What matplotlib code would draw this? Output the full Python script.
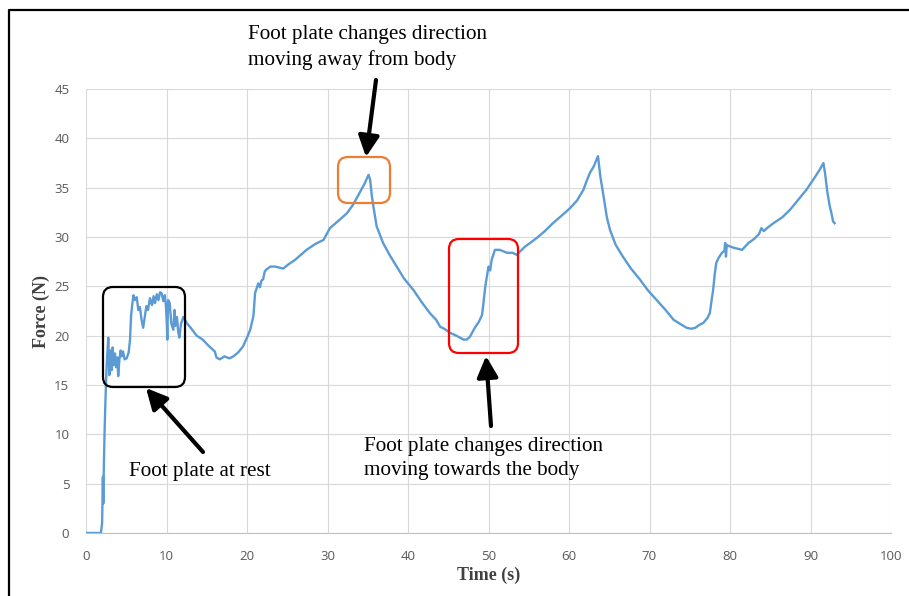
import matplotlib.pyplot as plt
from matplotlib.patches import FancyBboxPatch

# time (s) and force (N)
t = [0, 1.85, 2.0, 2.1, 2.15, 2.2, 2.3, 2.4, 2.5, 2.6, 2.77, 2.9, 3.0, 3.19, 3.3, 3.45, 3.6, 3.75,
     3.9, 4.0, 4.15, 4.3, 4.43, 4.6, 4.8, 5.05, 5.3, 5.47, 5.6, 5.75, 5.9, 6.1, 6.3, 6.5, 6.7, 6.9,
     7.1, 7.3, 7.5, 7.7, 7.95, 8.2, 8.4, 8.57, 8.8, 9.0, 9.2, 9.4, 9.6, 9.8, 9.94, 10.05, 10.1, 10.2,
     10.4, 10.6, 10.85, 11.0, 11.1, 11.3, 11.45, 11.6, 11.8, 12.1, 12.5, 13.0, 13.75, 14.5, 15.2, 16.0,
     16.2, 16.6, 17.2, 17.8, 18.3, 18.9, 19.5, 20.0, 20.4, 20.8, 21.0, 21.2, 21.4, 21.6, 21.8, 22.0,
     22.2, 22.4, 22.9, 23.5, 24.0, 24.5, 25.1, 26.0, 27.4, 28.5, 29.5, 30.3, 31.3, 32.4, 33.2, 34.0,
     34.6, 35.1, 35.3, 35.5, 35.7, 36.1, 36.9, 37.7, 38.6, 39.5, 40.7, 41.7, 42.7, 43.5, 44.0, 44.5,
     45.2, 46.0, 46.9, 47.3, 47.7, 48.3, 48.8, 49.2, 49.4, 49.6, 50.0, 50.2, 50.4, 50.8, 51.4, 52.3,
     53.0, 53.5, 54.5, 56.0, 57.0, 58.0, 59.0, 60.1, 61.0, 61.8, 62.2, 62.6, 63.1, 63.6, 63.9, 64.3,
     64.7, 65.1, 65.8, 66.7, 67.7, 68.8, 69.8, 70.9, 72.0, 73.0, 73.8, 74.6, 75.2, 75.7, 76.2, 76.7,
     77.2, 77.5, 77.7, 77.9, 78.1, 78.3, 78.6, 79.0, 79.3, 79.4, 79.5, 79.6, 79.8, 80.5, 81.5, 82.3,
     83.0, 83.6, 83.9, 84.2, 84.6, 85.4, 86.5, 87.5, 88.5, 89.5, 90.5, 91.2, 91.6, 91.8, 92.1, 92.4,
     92.6, 92.8, 93.0]
force = [0, 0, 1.0, 5.7, 3.0, 6.0, 10.0, 13.0, 15.5, 17.5, 19.8, 16.0, 18.5, 16.5, 18.8, 17.0, 18.2, 16.8,
         17.8, 15.9, 17.6, 18.5, 17.9, 18.4, 17.6, 17.7, 18.3, 19.6, 22.0, 23.2, 24.1, 23.6, 23.9, 22.6, 22.9, 21.6,
         20.8, 21.9, 23.0, 22.6, 23.8, 23.1, 24.0, 23.3, 24.2, 23.6, 24.4, 24.3, 23.5, 24.1, 22.9, 21.0, 19.6, 23.6,
         23.3, 21.2, 20.6, 22.6, 21.0, 21.9, 20.4, 19.8, 21.2, 21.9, 21.3, 20.8, 20.0, 19.6, 19.0, 18.4,
         17.8, 17.6, 17.9, 17.7, 17.9, 18.3, 18.9, 19.8, 20.6, 22.0, 24.3, 24.8, 25.3, 24.9, 25.6, 25.7,
         26.5, 26.7, 27.0, 27.0, 26.9, 26.8, 27.2, 27.7, 28.7, 29.3, 29.7, 30.9, 31.6, 32.4, 33.3, 34.5,
         35.4, 36.3, 35.8, 34.2, 33.1, 31.1, 29.4, 28.2, 27.0, 25.8, 24.6, 23.4, 22.3, 21.6, 20.9, 20.7,
         20.3, 20.0, 19.6, 19.6, 19.9, 20.8, 21.4, 22.1, 23.5, 25.0, 27.0, 26.6, 27.7, 28.7, 28.7, 28.4,
         28.4, 28.2, 29.0, 29.9, 30.6, 31.4, 32.1, 32.9, 33.7, 34.8, 35.7, 36.5, 37.2, 38.2, 36.1, 34.1,
         32.0, 30.7, 29.2, 28.0, 26.8, 25.7, 24.6, 23.6, 22.6, 21.6, 21.2, 20.8, 20.7, 20.8, 21.1, 21.3,
         21.8, 22.3, 23.5, 24.6, 26.2, 27.4, 27.9, 28.4, 28.6, 29.4, 28.0, 29.2, 29.1, 28.9, 28.7, 29.4,
         29.8, 30.3, 30.9, 30.6, 30.9, 31.4, 32.0, 32.8, 33.8, 34.8, 36.0, 36.9, 37.5, 36.5, 34.5, 33.1,
         32.4, 31.6, 31.4]

xticks = list(range(0, 101, 10))
yticks = list(range(0, 46, 5))

W, H = 909, 596
fig = plt.figure(figsize=(W / 100, H / 100), dpi=100)
ax = fig.add_axes([86 / W, 1 - 533 / H, 805 / W, 444 / H])

ax.plot(t, force, color='#5B9BD5', lw=1.7, zorder=3)
ax.set_xlim(0, 100)
ax.set_ylim(0, 45)
ax.set_xticks(xticks)
ax.set_yticks(yticks)
ax.grid(True, color='#D9D9D9', lw=0.8)
for s in ax.spines.values():
    s.set_visible(False)
ax.spines['bottom'].set_visible(True)
ax.spines['bottom'].set_color('#BFBFBF')
ax.tick_params(length=0, pad=12, labelsize=9.5, labelcolor='#595959')
for lab in ax.get_xticklabels() + ax.get_yticklabels():
    lab.set_family('Open Sans')

ax.set_xlabel('Time (s)', family='Liberation Serif', fontweight='bold', fontsize=13, color='#404040')
ax.set_ylabel('Force (N)', family='Liberation Serif', fontweight='bold', fontsize=13, color='#404040')
ax.xaxis.set_label_coords(0.5, -0.075)
ax.yaxis.set_label_coords(-0.045, 0.5)


def fx(px):
    return px / W


def fy(py):
    return 1 - py / H


serif = dict(family='Liberation Serif', fontsize=15.2, color='black', va='top', ha='left', linespacing=1.38)
fig.text(fx(248), fy(25), 'Foot plate changes direction\nmoving away from body', **serif)
fig.text(fx(129), fy(462), 'Foot plate at rest', **serif)
fig.text(fx(364), fy(437), 'Foot plate changes direction\nmoving towards the body', **serif)

# rounded boxes, in pixel coords (x0, y0, x1, y1)
boxes = [((103, 287, 185, 387), 'black'),
         ((338, 157, 390, 203), '#ED7D31'),
         ((449, 239, 518, 353), '#FF0000')]
for (x0, y0, x1, y1), c in boxes:
    r = 10
    p = FancyBboxPatch(((x0 + r) / 100, (H - y1 + r) / 100), (x1 - x0 - 2 * r) / 100, (y1 - y0 - 2 * r) / 100,
                       boxstyle='round,pad=%f' % (r / 100), transform=fig.dpi_scale_trans,
                       fill=False, ec=c, lw=1.6, zorder=5)
    fig.patches.append(p)

arrows = [((376, 80), (366, 157)),
          ((203, 452), (146, 388)),
          ((491, 426), (486, 356))]
for (tx, ty), (hx, hy) in arrows:
    ax.annotate('', xy=(hx, H - hy), xycoords='figure pixels', xytext=(tx, H - ty),
                textcoords='figure pixels',
                arrowprops=dict(arrowstyle='-|>,head_length=0.9,head_width=0.45', color='black', lw=3,
                                shrinkA=0, shrinkB=0, mutation_scale=14))

# outer frame (left and top edges visible)
fig.add_artist(plt.Line2D([fx(9), fx(9), 1.0], [0.0, fy(10), fy(10)], transform=fig.transFigure,
                          color='black', lw=1.6))

fig.savefig('out.png', dpi=100)
